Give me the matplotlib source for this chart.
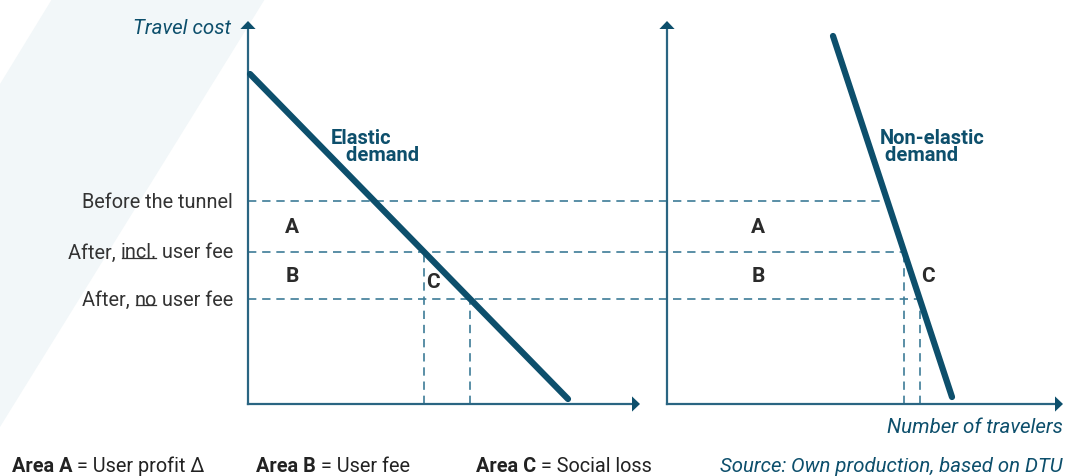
import matplotlib.pyplot as plt
from matplotlib.patches import Polygon
from matplotlib.lines import Line2D

# cost levels (same scale on both panels)
level_names = ["before", "incl", "none"]
cost_levels = [10.15, 7.6, 5.25]

# demand lines: (quantity, cost) end points
elastic_q = [0.1, 16.0]
elastic_cost = [16.5, 0.25]
inelastic_q = [8.3, 14.25]
inelastic_cost = [18.4, 0.35]

# axis lengths
y_axis_len = 19.15
left_x_len = 19.6
right_x_len = 19.8
right_offset = 20.95   # where the second panel starts

teal = "#0d4f6c"
axis_col = "#2a6582"
dash_col = "#3d7c97"
grey = "#2b2b2b"
txt = "#333333"

plt.rcParams['font.family'] = ['Roboto', 'DejaVu Sans']

fig = plt.figure(figsize=(10.67, 4.77), dpi=100)
ax = fig.add_axes([0, 0, 1, 1])
ax.set_xlim(-12.4, 40.95)
ax.set_ylim(-3.6, 20.25)
ax.axis("off")

# pale background band
band = Polygon([(-9.8, 20.25), (0.85, 20.25), (-12.4, -1.15), (-12.4, 16.0)],
               closed=True, color="#f2f7f9", zorder=0, lw=0)
ax.add_patch(band)


def q_at(cost, qs, cs):
    t = (cost - cs[0]) / (cs[1] - cs[0])
    return qs[0] + t * (qs[1] - qs[0])


def axes_arrows(x0, xlen):
    ax.plot([x0, x0], [0, y_axis_len - 0.3], color=axis_col, lw=1.6, zorder=2)
    ax.plot([x0, x0 + xlen - 0.3], [0, 0], color=axis_col, lw=1.6, zorder=2)
    ax.add_patch(Polygon([(x0 - 0.38, y_axis_len - 0.4), (x0 + 0.38, y_axis_len - 0.4),
                          (x0, y_axis_len)], color=teal, lw=0, zorder=3))
    ax.add_patch(Polygon([(x0 + xlen - 0.4, 0.38), (x0 + xlen - 0.4, -0.38),
                          (x0 + xlen, 0)], color=teal, lw=0, zorder=3))


axes_arrows(0, left_x_len)
axes_arrows(right_offset, right_x_len)

dash = dict(color=dash_col, lw=1.2, dashes=(5, 3.5), zorder=1)

# horizontal dashed levels, spanning both panels up to the inelastic demand
for c in cost_levels:
    xe = right_offset + q_at(c, inelastic_q, inelastic_cost)
    ax.plot([0, xe], [c, c], **dash)

# vertical dashed lines for the two lower levels
for c in cost_levels[1:]:
    xl = q_at(c, elastic_q, elastic_cost)
    ax.plot([xl, xl], [0, c], **dash)
    xr = right_offset + q_at(c, inelastic_q, inelastic_cost)
    ax.plot([xr, xr], [0, c], **dash)

# demand curves
ax.plot(elastic_q, elastic_cost, color=teal, lw=4.5, solid_capstyle="round", zorder=4)
ax.plot([right_offset + q for q in inelastic_q], inelastic_cost, color=teal, lw=4.5,
        solid_capstyle="round", zorder=4)

ax.text(4.15, 12.9, "Elastic\n   demand", color=teal, fontsize=14.5, fontweight="bold",
        va="center", ha="left", linespacing=0.92)
ax.text(right_offset + 10.65, 12.9, "Non-elastic\n demand", color=teal, fontsize=14.5,
        fontweight="bold", va="center", ha="left", linespacing=0.92)

# area letters
mid_ab = (cost_levels[0] + cost_levels[1]) / 2
mid_bc = (cost_levels[1] + cost_levels[2]) / 2
lbl = dict(color=grey, fontsize=15, fontweight="bold", va="center", ha="center")
for x0 in (2.2, right_offset + 4.55):
    ax.text(x0, mid_ab, "A", **lbl)
    ax.text(x0, mid_bc, "B", **lbl)
ax.text(9.25, mid_bc - 0.3, "C", **lbl)
ax.text(right_offset + 13.05, mid_bc, "C", **lbl)

# axis titles
ax.text(-0.85, y_axis_len - 0.3, "Travel cost", color=teal, fontsize=14.8, style="italic",
        ha="right", va="center")
ax.text(right_offset + right_x_len, -1.15, "Number of travelers", color=teal, fontsize=14.8,
        style="italic", ha="right", va="center")

# level labels, some words underlined
level_parts = [
    [("Before the tunnel", False)],
    [("After, ", False), ("incl.", True), (" user fee", False)],
    [("After, ", False), ("no", True), (" user fee", False)],
]
underlined = []
for c, parts in zip(cost_levels, level_parts):
    prev = None
    for word, ul in reversed(parts):
        if prev is None:
            t = ax.text(-0.75, c, word, color=txt, fontsize=14.3, ha="right", va="center")
        else:
            t = ax.annotate(word, xy=(0, 0), xycoords=prev, ha="right", va="bottom",
                            color=txt, fontsize=14.3)
        if ul:
            underlined.append(t)
        prev = t

# bottom legend line
legend_items = [("Area A", " = User profit \u0394", -11.8),
                ("Area B", " = User fee", 0.4),
                ("Area C", " = Social loss", 11.4)]
for bold, rest, x0 in legend_items:
    t = ax.text(x0, -3.1, bold, color="#222222", fontsize=14.3, fontweight="bold",
                ha="left", va="center")
    ax.annotate(rest, xy=(1, 0), xycoords=t, ha="left", va="bottom", color="#222222",
                fontsize=14.3)

src = ax.text(right_offset + right_x_len, -3.1, "Own production, based on DTU", color=teal,
              fontsize=14.7, style="italic", ha="right", va="center")
ax.annotate("Source: ", xy=(0, 0), xycoords=src, ha="right", va="bottom", color=teal,
            fontsize=14.7, style="italic")

# underline words
fig.canvas.draw()
r = fig.canvas.get_renderer()
for t in underlined:
    bb = t.get_window_extent(r)
    y = bb.y0 + 3.5
    fig.add_artist(Line2D([bb.x0 + 1, bb.x1 - 1], [y, y], color=txt, lw=0.9,
                          transform=None))

fig.savefig("out.png", dpi=100)
